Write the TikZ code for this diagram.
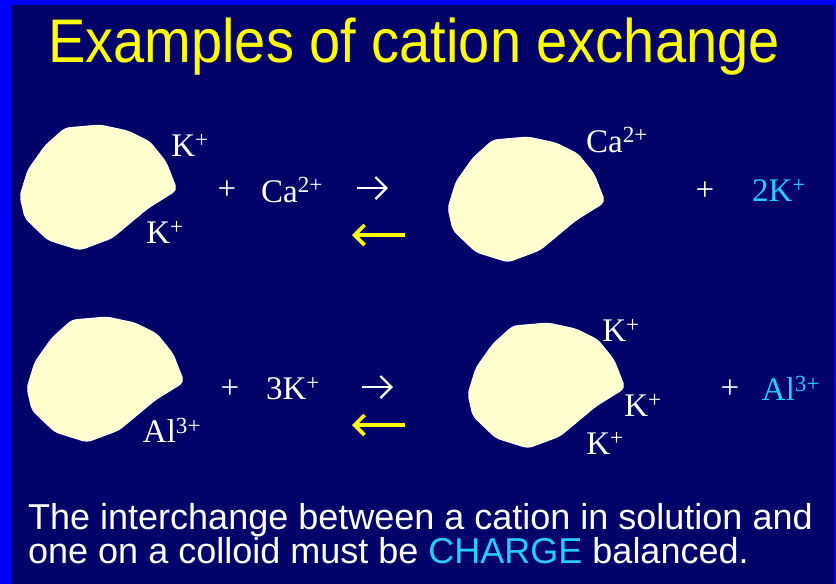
\documentclass[tikz,border=0pt]{standalone}
\usepackage{fontspec}
\setmainfont{Liberation Serif}
\newfontfamily\slidesans{Liberation Sans}
\usetikzlibrary{arrows.meta}

\definecolor{slideblue}{RGB}{0,0,255}
\definecolor{slidenavy}{RGB}{2,2,104}
\definecolor{colloidfill}{RGB}{255,255,208}
\definecolor{titleyellow}{RGB}{255,255,0}
\definecolor{ioncyan}{RGB}{40,205,255}

% outline of one colloid particle (pixel units)
\newcommand{\colloidpath}{(65,128) -- (100,125) -- (128,131) -- (150,142) -- (166,162) -- (177,190) -- (148,208) -- (112,238) -- (80,250) -- (48,240) -- (25,218) -- (20,196) -- (28,170) -- (45,146) -- cycle}

\begin{document}
\begin{tikzpicture}[x=1pt, y=-1pt,
    ion/.style={text=white, font=\fontsize{33}{36}\selectfont, inner sep=0pt},
    newion/.style={ion, text=ioncyan},
    colloid/.style={fill=colloidfill, draw=white, line width=1pt, rounded corners=5pt},
    fwd/.style={draw=white, line width=2.2pt, -{Straight Barb[length=11pt, width=22pt]}},
    back/.style={draw=titleyellow, line width=3.6pt, -{Straight Barb[length=10pt, width=20pt]}}]
  % Fundo do slide
  \fill[slideblue] (0,0) rectangle (836,584);
  \fill[slidenavy] (12,5) rectangle (834,584);
  \useasboundingbox (0,0) rectangle (836,584);

  % Titulo
  \node[anchor=base, text=titleyellow, inner sep=0pt, font=\slidesans\fontsize{56}{60}\selectfont] (title) at (414,62) {\scalebox{1}[1.1]{Examples of cation exchange}};

  % Coloides
  \draw[colloid] \colloidpath;
  \draw[colloid, shift={(428,12)}] \colloidpath;
  \draw[colloid, shift={(7,192)}] \colloidpath;
  \draw[colloid, shift={(448,198)}] \colloidpath;

  % Primeira troca: K+ por Ca2+
  \node[ion] (k1a) at (190,145) {K\textsuperscript{+}};
  \node[ion] (k1b) at (165,232) {K\textsuperscript{+}};
  \node[ion] (plus1) at (227,190) {+};
  \node[ion] (ca1) at (292,190) {Ca\textsuperscript{2+}};
  \node[ion] (ca2) at (617,140) {Ca\textsuperscript{2+}};
  \node[ion] (plus2) at (705,191) {+};
  \node[newion] (k2) at (779,190) {2K\textsuperscript{+}};

  \coordinate (f1s) at (357,188);
  \coordinate (f1e) at (388,188);
  \coordinate (b1s) at (405,235);
  \coordinate (b1e) at (352,235);
  \draw[fwd] (f1s) -- (f1e);
  \draw[back] (b1s) -- (b1e);

  % Segunda troca: Al3+ por K+
  \node[ion] (al1) at (172,430) {Al\textsuperscript{3+}};
  \node[ion] (plus3) at (230,389) {+};
  \node[ion] (k3) at (293,389) {3K\textsuperscript{+}};
  \node[ion] (k4a) at (621,330) {K\textsuperscript{+}};
  \node[ion] (k4b) at (643,405) {K\textsuperscript{+}};
  \node[ion] (k4c) at (605,443) {K\textsuperscript{+}};
  \node[ion] (plus4) at (730,389) {+};
  \node[newion] (al2) at (791,388) {Al\textsuperscript{3+}};

  \coordinate (f2s) at (362,387);
  \coordinate (f2e) at (393,387);
  \coordinate (b2s) at (405,425);
  \coordinate (b2e) at (352,425);
  \draw[fwd] (f2s) -- (f2e);
  \draw[back] (b2s) -- (b2e);

  % Texto final
  \node[anchor=base west, text=white, inner sep=0pt, align=left, font=\slidesans\fontsize{36}{34}\selectfont] (note) at (28,563) {The interchange between a cation in solution and\\one on a colloid must be \textcolor{ioncyan}{CHARGE} balanced.};
\end{tikzpicture}
\end{document}
